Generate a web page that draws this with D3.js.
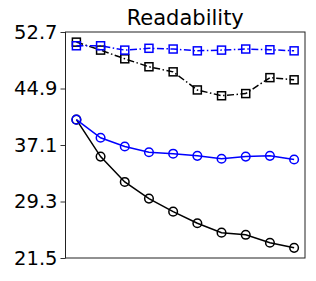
<!DOCTYPE html>
<html>
<head>
<meta charset="utf-8">
<script src="https://cdn.jsdelivr.net/npm/d3@7"></script>
<style>
  body { margin: 0; background: #fff; }
  text { font-family: "DejaVu Sans", sans-serif; }
</style>
</head>
<body>
<div id="chart"></div>
<script>
// values
const steps = [0, 1, 2, 3, 4, 5, 6, 7, 8, 9];
const yTicks = [21.5, 29.3, 37.1, 44.9, 52.7];
const blackSolid = [40.6, 35.5, 32.0, 29.7, 27.9, 26.3, 25.0, 24.7, 23.6, 22.9];
const blueSolid = [40.6, 38.1, 36.9, 36.1, 35.9, 35.6, 35.2, 35.5, 35.6, 35.1];
const blackDash = [51.3, 50.2, 49.0, 47.9, 47.2, 44.7, 43.9, 44.2, 46.4, 46.1];
const blueDash = [50.8, 50.8, 50.2, 50.45, 50.35, 50.1, 50.2, 50.35, 50.25, 50.1];

const series = [
  {vals: blackSolid, color: "#000", marker: "circle", dash: null},
  {vals: blueSolid, color: "#0000ff", marker: "circle", dash: null},
  {vals: blackDash, color: "#000", marker: "square", dash: "7,2.5,1.5,2.5"},
  {vals: blueDash, color: "#0000ff", marker: "square", dash: "7,2.5,1.5,2.5"}
];

const W = 316, H = 281;
const m = {left: 65.5, right: 11, top: 32, bottom: 23};

const svg = d3.select("#chart").append("svg")
  .attr("width", W).attr("height", H);

const x = d3.scaleLinear().domain([-0.45, 9.45]).range([m.left, W - m.right]);
const y = d3.scaleLinear().domain([21.5, 52.7]).range([H - m.bottom, m.top]);

// y axis
const yAxis = svg.append("g")
  .attr("transform", `translate(${m.left},0)`)
  .call(d3.axisLeft(y).tickValues(yTicks).tickFormat(d3.format(".1f")).tickSize(5).tickPadding(3));
yAxis.select(".domain").remove();
yAxis.selectAll("line").attr("stroke", "#333");
yAxis.selectAll("text").attr("font-size", 19.5).attr("fill", "#000")
  .attr("font-family", "DejaVu Sans");

// frame
svg.append("rect")
  .attr("x", m.left).attr("y", m.top)
  .attr("width", W - m.right - m.left).attr("height", H - m.bottom - m.top)
  .attr("fill", "none").attr("stroke", "#222").attr("stroke-width", 1);

// title
svg.append("text")
  .attr("x", (m.left + W - m.right) / 2).attr("y", 25)
  .attr("text-anchor", "middle").attr("font-size", 21)
  .text("Readability");

const line = d3.line().x((d, i) => x(steps[i])).y(d => y(d));

series.forEach(s => {
  const g = svg.append("g");
  g.append("path").datum(s.vals)
    .attr("d", line).attr("fill", "none")
    .attr("stroke", s.color).attr("stroke-width", 1.5)
    .attr("stroke-dasharray", s.dash);
  if (s.marker === "circle") {
    g.selectAll("circle").data(s.vals).join("circle")
      .attr("cx", (d, i) => x(steps[i])).attr("cy", d => y(d)).attr("r", 4.3)
      .attr("fill", "none").attr("stroke", s.color).attr("stroke-width", 1.5);
  } else {
    g.selectAll("rect").data(s.vals).join("rect")
      .attr("x", (d, i) => x(steps[i]) - 4).attr("y", d => y(d) - 4)
      .attr("width", 8).attr("height", 8)
      .attr("fill", "none").attr("stroke", s.color).attr("stroke-width", 1.5);
  }
});
</script>
</body>
</html>
